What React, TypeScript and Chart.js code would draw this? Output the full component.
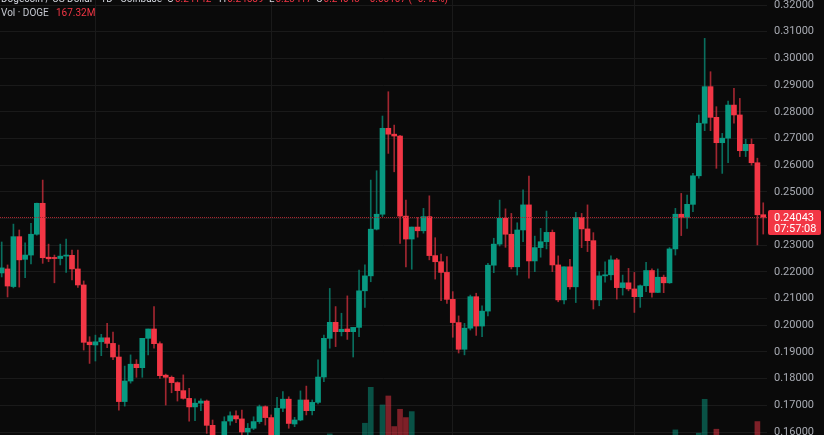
import React, { useEffect, useRef } from "react";
import { Chart, registerables } from "chart.js";

Chart.register(...registerables);

// Daily DOGE/USD candles (index 0 = leftmost visible day)
const opens = [
  0.2196, 0.2211, 0.2145, 0.2332, 0.2247, 0.2263, 0.2341, 0.2457, 0.2255, 0.2254,
  0.2250, 0.2259, 0.2262, 0.2211, 0.2151, 0.1937, 0.1926, 0.1938, 0.1953, 0.1932,
  0.1881, 0.1714, 0.1791, 0.1854, 0.1841, 0.1951, 0.1986, 0.1931, 0.1813, 0.1805,
  0.1785, 0.1755, 0.1726, 0.1694, 0.1708, 0.1716, 0.1625, 0.1560, 0.1572, 0.1641,
  0.1661, 0.1649, 0.1600, 0.1614, 0.1639, 0.1695, 0.1654, 0.1580, 0.1689, 0.1723,
  0.1630, 0.1645, 0.1720, 0.1680, 0.1711, 0.1806, 0.1951, 0.2011, 0.1976, 0.1986,
  0.1976, 0.1992, 0.2129, 0.2185, 0.2360, 0.2416, 0.2738, 0.2716, 0.2709, 0.2409,
  0.2323, 0.2368, 0.2354, 0.2407, 0.2261, 0.2238, 0.2198, 0.2097, 0.2010, 0.1910,
  0.1989, 0.2107, 0.1997, 0.2053, 0.2225, 0.2304, 0.2401, 0.2341, 0.2219, 0.2357,
  0.2451, 0.2241, 0.2291, 0.2313, 0.2348, 0.2226, 0.2095, 0.2219, 0.2144, 0.2404,
  0.2361, 0.2317, 0.2095, 0.2185, 0.2189, 0.2245, 0.2141, 0.2159, 0.2136, 0.2107,
  0.2148, 0.2205, 0.2123, 0.2180, 0.2159, 0.2286, 0.2416, 0.2404, 0.2453, 0.2560,
  0.2757, 0.2894, 0.2779, 0.2684, 0.2701, 0.2825, 0.2788, 0.2654, 0.2678, 0.2609,
  0.24142,
];

const highs = [
  0.2312, 0.2226, 0.2379, 0.2357, 0.2309, 0.2382, 0.2458, 0.2544, 0.2304, 0.2263,
  0.2304, 0.2323, 0.2282, 0.2282, 0.2166, 0.1957, 0.1963, 0.1966, 0.2007, 0.1974,
  0.1926, 0.1847, 0.1889, 0.1871, 0.1951, 0.1986, 0.2070, 0.1938, 0.1817, 0.1810,
  0.1788, 0.1814, 0.1764, 0.1724, 0.1724, 0.1720, 0.1645, 0.1585, 0.1657, 0.1676,
  0.1679, 0.1682, 0.1632, 0.1657, 0.1701, 0.1698, 0.1664, 0.1730, 0.1751, 0.1732,
  0.1655, 0.1754, 0.1772, 0.1720, 0.1870, 0.1963, 0.2138, 0.2070, 0.2045, 0.2110,
  0.1992, 0.2207, 0.2226, 0.2544, 0.2579, 0.2784, 0.2875, 0.2750, 0.2712, 0.2469,
  0.2368, 0.2404, 0.2438, 0.2485, 0.2328, 0.2267, 0.2257, 0.2126, 0.2035, 0.2007,
  0.2113, 0.2120, 0.2073, 0.2232, 0.2326, 0.2469, 0.2436, 0.2419, 0.2384, 0.2507,
  0.2559, 0.2334, 0.2363, 0.2428, 0.2357, 0.2260, 0.2219, 0.2247, 0.2423, 0.2419,
  0.2451, 0.2347, 0.2201, 0.2238, 0.2260, 0.2251, 0.2188, 0.2213, 0.2198, 0.2151,
  0.2236, 0.2211, 0.2211, 0.2188, 0.2291, 0.2438, 0.2494, 0.2488, 0.2569, 0.2788,
  0.3075, 0.2950, 0.2819, 0.2719, 0.2840, 0.2888, 0.2850, 0.2697, 0.2698, 0.2626,
  0.24589,
];

const lows = [
  0.2181, 0.2106, 0.2140, 0.2143, 0.2178, 0.2230, 0.2338, 0.2232, 0.2238, 0.2159,
  0.2226, 0.2198, 0.2170, 0.2142, 0.1907, 0.1857, 0.1866, 0.1886, 0.1916, 0.1871,
  0.1682, 0.1697, 0.1783, 0.1805, 0.1805, 0.1889, 0.1914, 0.1801, 0.1701, 0.1747,
  0.1716, 0.1723, 0.1641, 0.1642, 0.1680, 0.1595, 0.1545, 0.1535, 0.1560, 0.1626,
  0.1635, 0.1580, 0.1585, 0.1609, 0.1632, 0.1626, 0.1565, 0.1570, 0.1676, 0.1614,
  0.1620, 0.1642, 0.1664, 0.1664, 0.1705, 0.1789, 0.1914, 0.1920, 0.1960, 0.1947,
  0.1881, 0.1957, 0.2067, 0.2163, 0.2357, 0.2407, 0.2644, 0.2575, 0.2307, 0.2219,
  0.2210, 0.2330, 0.2345, 0.2245, 0.2173, 0.2092, 0.2082, 0.1955, 0.1896, 0.1889,
  0.1982, 0.1962, 0.1957, 0.2035, 0.2197, 0.2297, 0.2292, 0.2211, 0.2188, 0.2313,
  0.2176, 0.2201, 0.2255, 0.2286, 0.2201, 0.2088, 0.2080, 0.2135, 0.2085, 0.2291,
  0.2276, 0.2061, 0.2073, 0.2161, 0.2170, 0.2098, 0.2113, 0.2129, 0.2048, 0.2067,
  0.2126, 0.2105, 0.2122, 0.2122, 0.2157, 0.2263, 0.2336, 0.2363, 0.2426, 0.2551,
  0.2729, 0.2729, 0.2588, 0.2569, 0.2609, 0.2757, 0.2632, 0.2632, 0.2600, 0.2301,
  0.23417,
];

const closes = [
  0.2215, 0.2147, 0.2332, 0.2245, 0.2263, 0.2341, 0.2457, 0.2253, 0.2249, 0.2250,
  0.2259, 0.2263, 0.2211, 0.2151, 0.1936, 0.1927, 0.1938, 0.1953, 0.1932, 0.1881,
  0.1714, 0.1791, 0.1854, 0.1841, 0.1951, 0.1986, 0.1931, 0.1811, 0.1805, 0.1785,
  0.1755, 0.1726, 0.1694, 0.1708, 0.1716, 0.1625, 0.1560, 0.1572, 0.1639, 0.1661,
  0.1649, 0.1600, 0.1614, 0.1639, 0.1695, 0.1654, 0.1580, 0.1689, 0.1723, 0.1632,
  0.1645, 0.1720, 0.1680, 0.1711, 0.1806, 0.1951, 0.2011, 0.1976, 0.1985, 0.1976,
  0.1992, 0.2129, 0.2185, 0.2360, 0.2416, 0.2738, 0.2716, 0.2709, 0.2409, 0.2323,
  0.2368, 0.2354, 0.2407, 0.2261, 0.2238, 0.2198, 0.2097, 0.2010, 0.1910, 0.1989,
  0.2107, 0.1997, 0.2053, 0.2225, 0.2304, 0.2401, 0.2341, 0.2219, 0.2357, 0.2451,
  0.2241, 0.2291, 0.2313, 0.2348, 0.2226, 0.2095, 0.2219, 0.2144, 0.2404, 0.2361,
  0.2317, 0.2095, 0.2185, 0.2189, 0.2245, 0.2141, 0.2159, 0.2136, 0.2107, 0.2148,
  0.2205, 0.2123, 0.2180, 0.2159, 0.2286, 0.2416, 0.2404, 0.2453, 0.2560, 0.2757,
  0.2894, 0.2779, 0.2684, 0.2701, 0.2825, 0.2788, 0.2654, 0.2678, 0.2609, 0.2414,
  0.24043,
];

// Daily volume in millions of DOGE
const volumes = [
  1300, 1100, 1900, 1500, 900, 1400, 2100, 2400, 900, 1000,
  800, 900, 1000, 1200, 2300, 1100, 900, 800, 1000, 1100,
  2400, 1900, 1300, 800, 1500, 1200, 1600, 1500, 900, 700,
  800, 900, 1300, 800, 600, 1700, 1800, 1300, 1400, 900,
  700, 1100, 800, 900, 1200, 1000, 1300, 1500, 1100, 1200,
  700, 1300, 1200, 900, 1900, 2300, 2590, 2200, 1400, 1800,
  1500, 2450, 2910, 3990, 2500, 3460, 3730, 2810, 3330, 3080,
  3260, 1900, 1700, 2400, 1600, 1500, 1700, 1900, 2000, 1600,
  1500, 1400, 1100, 1800, 1600, 2000, 1500, 1800, 1600, 2100,
  2400, 1300, 1000, 1200, 1300, 1700, 1500, 1000, 2300, 1400,
  1500, 2000, 1300, 800, 900, 1100, 700, 800, 1000, 900,
  1000, 900, 800, 600, 1900, 2710, 2000, 1700, 2200, 2610,
  3630, 2500, 2730, 1600, 1900, 1500, 1900, 1100, 1500, 2960,
  167.32,
];

const priceTicks = [
  0.16, 0.17, 0.18, 0.19, 0.2, 0.21, 0.22, 0.23, 0.24, 0.25, 0.26, 0.27, 0.28,
  0.29, 0.3, 0.31, 0.32,
];
// candle indices where a new month starts (vertical grid lines)
const monthStarts = [16, 46, 77, 108];

const symbolTitle = "Dogecoin / US Dollar · 1D · Coinbase";
const ohlcLabels = ["O", "H", "L", "C"];
const ohlcValues = ["0.24142", "0.24589", "0.23417", "0.24043"];
const changeText = "−0.00107 (−0.42%)";
const volLabel = "Vol · DOGE";
const volValue = "167.32M";
const lastPrice = 0.24043;
const countdown = "07:57:08";

const UP = "#089981";
const DOWN = "#f23645";
const UP_WICK = "rgba(8,153,129,0.7)";
const DOWN_WICK = "rgba(242,54,69,0.65)";
const UP_VOL = "rgba(8,153,129,0.5)";
const DOWN_VOL = "rgba(242,54,69,0.5)";
const BG = "#0a0a0a";
const GRID = "#1a1a1a";
const TEXT = "#a8abb3";
const FONT = 'Roboto, "Noto Sans", "Liberation Sans", sans-serif';

export default function App() {
  const ref = useRef<HTMLCanvasElement | null>(null);

  useEffect(() => {
    document.body.style.margin = "0";
    document.body.style.background = BG;
    const canvas = ref.current;
    if (!canvas) return;
    const idx = opens.map((_, i) => i);
    const up = idx.map((i) => closes[i] >= opens[i]);

    const priceLine = {
      id: "priceLine",
      afterDatasetsDraw(chart: any) {
        const { ctx, chartArea, scales } = chart;
        const y = Math.round(scales.y.getPixelForValue(lastPrice)) + 0.5;
        ctx.save();
        ctx.strokeStyle = "#a8262f";
        ctx.lineWidth = 1;
        ctx.setLineDash([1, 1]);
        ctx.beginPath();
        ctx.moveTo(chartArea.left, y);
        ctx.lineTo(chartArea.right, y);
        ctx.stroke();
        ctx.restore();
      },
      afterDraw(chart: any) {
        const { ctx, chartArea, scales } = chart;
        const y = scales.y.getPixelForValue(lastPrice);
        const x = chartArea.right + 1;
        ctx.save();
        ctx.fillStyle = DOWN;
        ctx.beginPath();
        ctx.roundRect(x, Math.round(y - 7), 53, 25, 2);
        ctx.fill();
        ctx.fillStyle = "#ffffff";
        ctx.font = `11px ${FONT}`;
        ctx.textBaseline = "middle";
        ctx.textAlign = "left";
        ctx.fillText(lastPrice.toFixed(5), x + 6, y + 1);
        ctx.fillText(countdown, x + 6, y + 11.5);
        ctx.restore();
      },
    };

    const chart = new Chart(canvas, {
      type: "bar",
      data: {
        datasets: [
          {
            label: "Body",
            data: idx.map((i) => ({ x: i, y: [opens[i], closes[i]] })) as any,
            backgroundColor: idx.map((i) => (up[i] ? UP : DOWN)),
            barThickness: 5,
            minBarLength: 1,
            grouped: false,
            borderWidth: 0,
            order: 1,
            yAxisID: "y",
          },
          {
            label: "Wick",
            data: idx.map((i) => ({ x: i, y: [lows[i], highs[i]] })) as any,
            backgroundColor: idx.map((i) => (up[i] ? UP_WICK : DOWN_WICK)),
            barThickness: 1,
            grouped: false,
            borderWidth: 0,
            order: 2,
            yAxisID: "y",
          },
          {
            label: "Volume",
            data: idx.map((i) => ({ x: i, y: volumes[i] })) as any,
            backgroundColor: idx.map((i) => (up[i] ? UP_VOL : DOWN_VOL)),
            barThickness: 5,
            grouped: false,
            borderWidth: 0,
            order: 3,
            yAxisID: "vol",
          },
        ],
      },
      options: {
        responsive: false,
        animation: false,
        devicePixelRatio: 1,
        layout: { padding: 0 },
        plugins: { legend: { display: false }, tooltip: { enabled: false } },
        scales: {
          x: {
            type: "linear",
            min: -0.29,
            max: 130.64,
            offset: false,
            grid: { color: GRID, drawTicks: false, offset: false },
            border: { display: false },
            ticks: { display: false },
            afterBuildTicks: (s: any) => {
              s.ticks = monthStarts.map((v) => ({ value: v }));
            },
            afterFit: (s: any) => {
              s.height = 0;
              s.paddingLeft = 0;
              s.paddingRight = 0;
            },
          },
          y: {
            type: "linear",
            position: "right",
            min: 0.158876,
            max: 0.321874,
            grid: { color: GRID, drawTicks: false },
            border: { display: false },
            ticks: {
              color: TEXT,
              padding: 7,
              font: { family: FONT, size: 11 },
              callback: (v: any) => Number(v).toFixed(5),
            },
            afterBuildTicks: (s: any) => {
              s.ticks = priceTicks.map((v) => ({ value: v }));
            },
            afterFit: (s: any) => {
              s.width = 57;
              s.paddingTop = 0;
              s.paddingBottom = 0;
            },
          },
          vol: {
            type: "linear",
            position: "left",
            display: false,
            min: 2556,
            max: 15640,
          },
        },
      } as any,
      plugins: [priceLine],
    });
    return () => chart.destroy();
  }, []);

  const txt: React.CSSProperties = {
    position: "absolute",
    fontFamily: FONT,
    fontSize: 10,
    lineHeight: "10px",
    whiteSpace: "nowrap",
  };
  const ohlcX = [167, 219, 269, 316];

  return (
    <div
      style={{
        position: "fixed",
        left: 0,
        top: 0,
        width: 824,
        height: 435,
        background: BG,
        overflow: "hidden",
      }}
    >
      <canvas ref={ref} width={824} height={435} style={{ display: "block" }} />
      <div style={{ position: "absolute", left: 0, top: 0, width: 824, height: 30, pointerEvents: "none" }}>
        <span style={{ ...txt, left: 1, top: -6, color: "#d1d4dc" }}>{symbolTitle}</span>
        {ohlcLabels.map((l, i) => (
          <span key={l} style={{ ...txt, left: ohlcX[i], top: -6, color: "#d1d4dc" }}>
            {l}
            <span style={{ color: DOWN, marginLeft: 1 }}>{ohlcValues[i]}</span>
          </span>
        ))}
        <span style={{ ...txt, left: 364, top: -6, color: DOWN }}>{changeText}</span>
        <span style={{ ...txt, left: 1, top: 8, color: "#c4c7cf" }}>{volLabel}</span>
        <span style={{ ...txt, left: 56, top: 8, color: DOWN }}>{volValue}</span>
      </div>
    </div>
  );
}
